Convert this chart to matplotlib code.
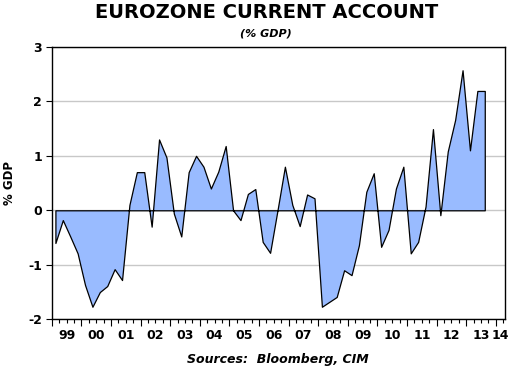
import matplotlib
matplotlib.use("Agg")
import matplotlib.pyplot as plt
import numpy as np

# quarterly current account, % of GDP, 1999Q1 .. 2013Q3
start_year = 1999
values = [
    -0.60, -0.18, -0.48, -0.79, -1.37, -1.77, -1.50, -1.39, -1.08, -1.28,
    0.10, 0.70, 0.70, -0.30, 1.30, 0.97, -0.06, -0.48, 0.70, 1.00,
    0.80, 0.40, 0.71, 1.18, 0.00, -0.18, 0.30, 0.39, -0.58, -0.78,
    0.00, 0.80, 0.10, -0.29, 0.29, 0.22, -1.77, -1.68, -1.59, -1.10,
    -1.19, -0.64, 0.34, 0.68, -0.67, -0.36, 0.40, 0.80, -0.79, -0.58,
    0.07, 1.49, -0.09, 1.08, 1.66, 2.57, 1.10, 2.19, 2.19,
]
year_labels = ["99", "00", "01", "02", "03", "04", "05", "06",
               "07", "08", "09", "10", "11", "12", "13", "14"]

x = start_year + 0.125 + 0.25 * np.arange(len(values))
y = np.array(values)

fig = plt.figure(figsize=(5.12, 3.73), dpi=100)
ax = fig.add_axes([0.101, 0.144, 0.886, 0.7305])

ax.fill_between(x, y, 0, facecolor="#99BBFF", edgecolor="black",
                linewidth=0.9, zorder=3)

ax.set_xlim(1999.0, 2014.32)
ax.set_ylim(-2, 3)
ax.set_yticks(range(-2, 4))
ax.set_yticklabels([str(v) for v in range(-2, 4)], fontweight="bold", fontsize=9)
ax.yaxis.grid(True, color="#C8C8C8", linewidth=1.0, zorder=0)
ax.set_axisbelow(True)

ax.set_xticks(np.arange(1999, 2015))
ax.set_xticklabels([])
ax.set_xticks(np.arange(1999, 2014.3, 0.25), minor=True)
ax.tick_params(axis="x", which="major", length=5, width=0.8, direction="out")
ax.tick_params(axis="x", which="minor", length=3, width=0.8, direction="out")
ax.tick_params(axis="y", length=4, width=0.8, direction="out", pad=3)

trans = ax.get_xaxis_transform()
for i, lab in enumerate(year_labels):
    xpos = 1999.5 + i
    if xpos > 2014.3:
        xpos = 2014.15
    ax.text(xpos, -0.035, lab, transform=trans, ha="center", va="top",
            fontsize=9, fontweight="bold")

for s in ax.spines.values():
    s.set_linewidth(1.0)

ax.set_ylabel("% GDP", fontsize=8.5, fontweight="bold", labelpad=9)

fig.text(0.52, 0.967, "EUROZONE CURRENT ACCOUNT", ha="center", va="center",
         fontsize=14, fontweight="bold")
fig.text(0.52, 0.91, "(% GDP)", ha="center", va="center",
         fontsize=8, fontweight="bold", style="italic")
fig.text(0.543, 0.035, "Sources:  Bloomberg, CIM", ha="center", va="center",
         fontsize=9, fontweight="bold", style="italic")

fig.savefig("out.png", dpi=100)
